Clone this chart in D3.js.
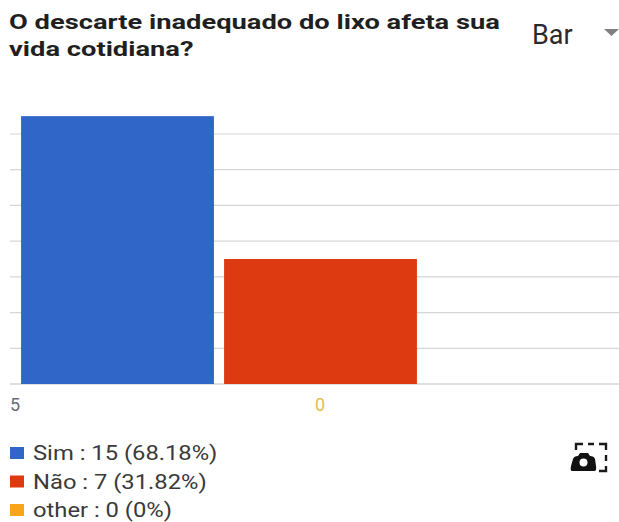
<!DOCTYPE html>
<html lang="pt">
<head>
<meta charset="utf-8">
<title>O descarte inadequado do lixo afeta sua vida cotidiana?</title>
<script src="https://cdn.jsdelivr.net/npm/d3@7"></script>
<style>
  html, body { margin: 0; padding: 0; background: #fff; }
  svg { display: block; font-family: Roboto, "Noto Sans", sans-serif; }
</style>
</head>
<body>
<div id="chart"></div>
<script>
const titleLines = ["O descarte inadequado do lixo afeta sua", "vida cotidiana?"];
const categories = ["Sim", "Não", "other"];
const counts = [15, 7, 0];
const percents = ["68.18%", "31.82%", "0%"];
const colors = ["#3066c8", "#dd3a12", "#f8a51b"];
const gridTicks = [0, 2, 4, 6, 8, 10, 12, 14];
const axisLabels = ["5", "0"];
const axisColors = ["#6b6b78", "#e3bd52"];

const width = 619, height = 522;
const svg = d3.select("#chart").append("svg")
  .attr("width", width)
  .attr("height", height)
  .attr("viewBox", `0 0 ${width} ${height}`);

const x = d3.scaleBand().domain(categories).range([16, 625]).paddingInner(0.05).paddingOuter(0.025);
const y = d3.scaleLinear().domain([0, 14]).range([384, 134]);
const labelX = d3.scalePoint().domain(axisLabels).range([15, 320]);

// ─── title + chart type selector ─────────────────────────────────────
// the screenshot is stretched sideways, so text gets scaled to match.
svg.append("g")
  .selectAll("text")
  .data(titleLines)
  .join("text")
  .attr("transform", (d, i) => `translate(9,${29 + i * 27}) scale(1.3,1)`)
  .attr("font-size", 21)
  .attr("font-weight", 700)
  .attr("fill", "#1f1f1f")
  .text((d) => d);

svg.append("text")
  .attr("x", 532)
  .attr("y", 44)
  .attr("font-size", 27)
  .attr("fill", "#2a2a2a")
  .text("Bar");

svg.append("path")
  .attr("d", "M604,29 L619,29 L611.5,36 Z")
  .attr("fill", "#808080");

// ─── grid ────────────────────────────────────────────────────────────
svg.append("g")
  .selectAll("line")
  .data(gridTicks)
  .join("line")
  .attr("x1", 10)
  .attr("x2", width)
  .attr("y1", (d) => y(d))
  .attr("y2", (d) => y(d))
  .attr("stroke", (d) => (d === 0 ? "#bdbdbd" : "#d6d6d6"))
  .attr("stroke-width", 1.2);

// ─── bars ────────────────────────────────────────────────────────────
svg.append("g")
  .selectAll("rect")
  .data(categories)
  .join("rect")
  .attr("x", (d) => x(d))
  .attr("y", (d, i) => y(counts[i]))
  .attr("width", x.bandwidth())
  .attr("height", (d, i) => y(0) - y(counts[i]))
  .attr("fill", (d, i) => colors[i]);

svg.append("g")
  .selectAll("text")
  .data(axisLabels)
  .join("text")
  .attr("x", (d) => labelX(d))
  .attr("y", 411)
  .attr("text-anchor", "middle")
  .attr("font-size", 18)
  .attr("fill", (d, i) => axisColors[i])
  .text((d) => d);

// ─── legend ──────────────────────────────────────────────────────────
const legend = svg.append("g")
  .selectAll("g")
  .data(categories)
  .join("g")
  .attr("transform", (d, i) => `translate(10,${453 + i * 28.5})`);

legend.append("rect")
  .attr("y", -6)
  .attr("width", 14)
  .attr("height", 12)
  .attr("fill", (d, i) => colors[i]);

legend.append("text")
  .attr("transform", "translate(23,7) scale(1.16,1)")
  .attr("font-size", 20.5)
  .attr("fill", "#3a3a3a")
  .text((d, i) => `${d} : ${counts[i]} (${percents[i]})`);

// ─── save-image icon ─────────────────────────────────────────────────
const icon = svg.append("g").attr("transform", "translate(570,442)");
icon.append("path")
  .attr("d", "M6,8 V2 H13 M18,2 H24 M29,2 H36 V8 M36,13 V19 M36,24 V29 H29")
  .attr("fill", "none")
  .attr("stroke", "#1a1a1a")
  .attr("stroke-width", 2.4);
icon.append("path")
  .attr("d", "M2,29 Q0,29 1,24 L3,17 Q4,14 8,14 L10,11 H18 L20,14 Q24,14 25,17 L26,24 Q27,29 24,29 Z")
  .attr("fill", "#111");
icon.append("circle")
  .attr("cx", 13.5)
  .attr("cy", 20.5)
  .attr("r", 4)
  .attr("fill", "#fff");
</script>
</body>
</html>
